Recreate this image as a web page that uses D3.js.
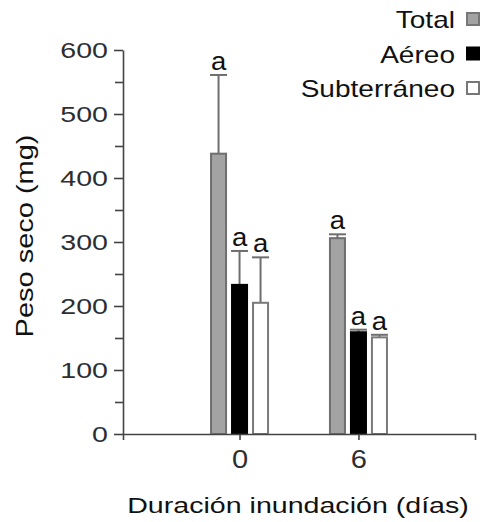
<!DOCTYPE html>
<html><head><meta charset="utf-8">
<script src="https://cdn.jsdelivr.net/npm/d3@7"></script>
<style>body{margin:0;background:#fff}svg{display:block}</style>
</head><body>
<script>
const categories = ["0", "6"];
const series = ["Total", "Aéreo", "Subterráneo"];
const totalValues = [438, 306];
const totalErr = [123, 6];
const aereoValues = [233, 159];
const aereoErr = [53, 4];
const subValues = [205, 151];
const subErr = [71, 4];
const letters = [["a","a"],["a","a"],["a","a"]];
const yTicks = [0,100,200,300,400,500,600];
const yMinor = [50,150,250,350,450,550];

const W = 488, H = 522;
const fills = ["#a3a3a3", "#000000", "#ffffff"];
const strokes = ["#6f6f6f", "#000000", "#7a7a7a"];
const vals = [totalValues, aereoValues, subValues];
const errs = [totalErr, aereoErr, subErr];

const svg = d3.select("body").append("svg").attr("width", W).attr("height", H)
  .style("font-family", "'Liberation Sans', Arial, sans-serif");

// place text with horizontal stretch
function sText(g, x, yv, sx, size, anchor, str) {
  return g.append("text").attr("transform", `translate(${x},${yv}) scale(${sx},1)`)
    .attr("text-anchor", anchor).attr("font-size", size).attr("fill", "#111").text(str);
}

const y = d3.scaleLinear().domain([0, 600]).range([434, 50]);
const x = d3.scalePoint().domain(categories).range([123, 475]).padding(0.98);
const xs = d3.scaleBand().domain(series).range([-29.5, 29.5]).paddingInner(0.19);

// y axis
const yAxis = svg.append("g").attr("transform", "translate(123,0)")
  .call(d3.axisLeft(y).tickValues(yTicks).tickSize(9).tickSizeOuter(0).tickPadding(5));
yAxis.selectAll(".tick text").attr("font-size", 22).attr("fill", "#2e2e2e")
  .attr("x", null).attr("transform", "translate(-15,0) scale(1.3,1)");
yAxis.selectAll("line, path").attr("stroke", "#444").attr("stroke-width", 1.6);
svg.append("g").attr("transform", "translate(123,0)")
  .call(d3.axisLeft(y).tickValues(yMinor).tickSize(8).tickFormat(""))
  .call(g => g.select(".domain").remove())
  .selectAll("line").attr("stroke", "#444").attr("stroke-width", 1.6);

// bars
series.forEach((s, si) => {
  const g = svg.append("g");
  categories.forEach((c, ci) => {
    const v = vals[si][ci], e = errs[si][ci];
    const x0 = x(c) + xs(s);
    const bw = xs.bandwidth();
    const cx = x0 + bw / 2;
    g.append("line").attr("x1", cx).attr("x2", cx).attr("y1", y(v)).attr("y2", y(v + e))
      .attr("stroke", "#6e6e6e").attr("stroke-width", 2);
    g.append("line").attr("x1", x0).attr("x2", x0 + bw).attr("y1", y(v + e)).attr("y2", y(v + e))
      .attr("stroke", "#6e6e6e").attr("stroke-width", 2);
    g.append("rect").attr("x", x0 + 1).attr("y", y(v)).attr("width", bw - 2)
      .attr("height", y(0) - y(v)).attr("fill", fills[si]).attr("stroke", strokes[si]).attr("stroke-width", 2);
    sText(g, cx, y(v + e) - 5, 1.1, 25, "middle", letters[si][ci]);
  });
});

// x axis
const xAxis = svg.append("g").attr("transform", "translate(0,434)")
  .call(d3.axisBottom(x).tickSize(6).tickSizeOuter(6).tickPadding(10));
xAxis.selectAll(".tick text").attr("font-size", 26).attr("fill", "#2e2e2e")
  .attr("y", null).attr("transform", "translate(0,16) scale(1.12,1)");
xAxis.selectAll("line, path").attr("stroke", "#444").attr("stroke-width", 1.6);

// axis titles
svg.append("text").attr("transform", "translate(33,236) rotate(-90) scale(1.26,1)").attr("text-anchor", "middle")
  .attr("font-size", 23).attr("fill", "#111").text("Peso seco (mg)");
sText(svg, 298, 513, 1.3, 22, "middle", "Duración inundación (días)");

// legend
series.forEach((s, i) => {
  const base = 28 + i * 34.5;
  sText(svg, 455, base, 1.22, 23, "end", s);
  svg.append("rect").attr("x", 467).attr("y", base - 15).attr("width", 12).attr("height", 12)
    .attr("fill", fills[i]).attr("stroke", i === 1 ? "#000" : "#777").attr("stroke-width", 2);
});
</script>
</body></html>
